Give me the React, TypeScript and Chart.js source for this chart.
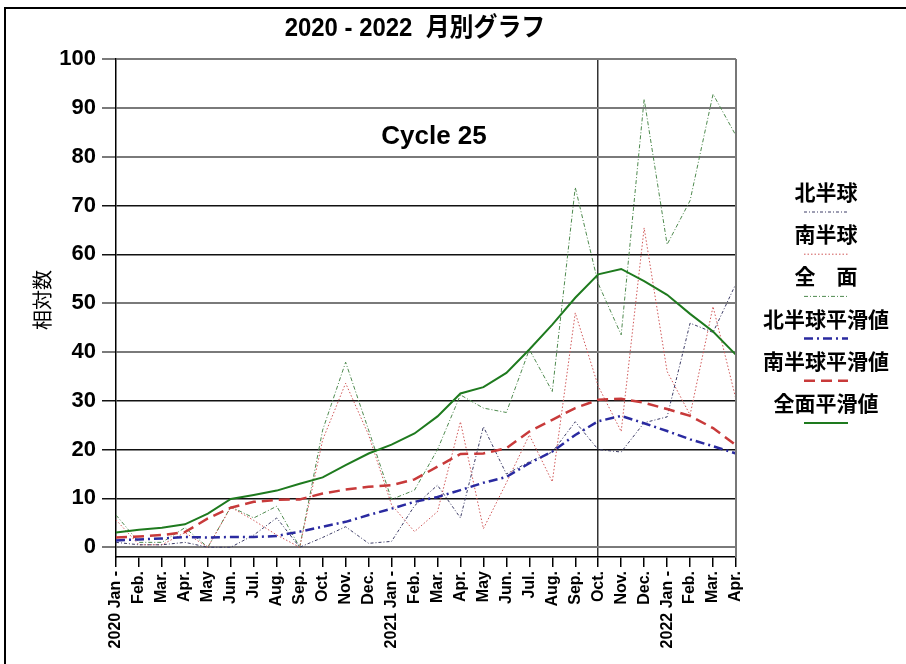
import React, { useEffect, useRef } from "react";
import { Chart, registerables } from "chart.js";

Chart.register(...registerables);

const TITLE = "2020 - 2022  月別グラフ";
const Y_TITLE = "相対数";
const NOTE = "Cycle 25";

const months = [
  "2020 Jan -", "Feb.", "Mar.", "Apr.", "May", "Jun.", "Jul.", "Aug.", "Sep.", "Oct.", "Nov.", "Dec.",
  "2021 Jan -", "Feb.", "Mar.", "Apr.", "May", "Jun.", "Jul.", "Aug.", "Sep.", "Oct.", "Nov.", "Dec.",
  "2022 Jan -", "Feb.", "Mar.", "Apr.",
];

const yTicks = [0, 10, 20, 30, 40, 50, 60, 70, 80, 90, 100];

const north = [1, 0.5, 0.5, 1, 0, 0, 2.5, 6, 0, 2, 4.2, 0.8, 1.2, 8.5, 12.7, 6, 24.7, 15, 17.5, 19.5, 25.7, 20, 19.5, 25.5, 26.7, 45.9, 44, 54];
const south = [5.6, 0.5, 0.5, 3, 0, 8.2, 5.5, 2.5, 0, 22, 33.6, 23, 8.7, 3.2, 7.3, 25.7, 3.8, 13.2, 23, 13.4, 48, 33, 23.7, 65.4, 36, 27.1, 49.3, 30.3];
const total = [6.6, 1, 1, 4, 0, 8.3, 6, 8.4, 0, 24, 37.9, 24, 9.8, 11.7, 20, 31.2, 28.5, 27.6, 40.5, 31.9, 73.7, 54, 43.5, 91.8, 62, 71, 92.8, 84.3];
const northSmooth = [1.4, 1.6, 1.8, 2.1, 2, 2.1, 2.1, 2.3, 3.2, 4.2, 5.2, 6.6, 7.9, 9.3, 10.3, 11.7, 13.2, 14.4, 17.2, 19.6, 23, 25.8, 26.9, 25.4, 23.8, 22.1, 20.7, 19.2];
const southSmooth = [2, 2.2, 2.5, 3.1, 5.9, 8.1, 9.3, 9.7, 9.8, 11, 11.8, 12.4, 12.7, 13.9, 16.5, 19.1, 19.2, 20.3, 23.7, 26.1, 28.5, 30.2, 30.4, 29.6, 28.3, 26.9, 24.4, 20.9];
const totalSmooth = [3, 3.6, 4, 4.7, 6.9, 9.9, 10.7, 11.6, 13, 14.3, 16.8, 19.2, 21, 23.3, 26.8, 31.5, 32.8, 35.7, 40.5, 45.6, 51.1, 55.9, 57, 54.5, 51.7, 47.8, 44.2, 39.4];

const seriesNames = ["北半球", "南半球", "全　面", "北半球平滑値", "南半球平滑値", "全面平滑値"];

const MARKER_INDEX = 21; // 2021 Oct.
const GRAY_LINES = [100, 90, 80, 50, 40, 0];

const decorPlugin = {
  id: "decor",
  afterDraw(chart: any) {
    const ctx = chart.ctx as CanvasRenderingContext2D;
    const { right, top, bottom } = chart.chartArea;
    ctx.save();
    // right border of plot
    ctx.strokeStyle = "#777";
    ctx.lineWidth = 2;
    ctx.beginPath();
    ctx.moveTo(right, top);
    ctx.lineTo(right, bottom);
    ctx.stroke();

    // outer frame
    ctx.strokeStyle = "#000";
    ctx.lineWidth = 2;
    ctx.beginPath();
    ctx.moveTo(5, 700);
    ctx.lineTo(5, 8);
    ctx.lineTo(950, 8);
    ctx.stroke();

    ctx.fillStyle = "#000";
    ctx.textAlign = "center";
    ctx.textBaseline = "middle";

    ctx.save();
    ctx.translate(415, 29);
    ctx.scale(0.92, 1);
    ctx.font = 'bold 26px "Liberation Sans", "Noto Sans CJK JP", sans-serif';
    ctx.fillText(TITLE, 0, 0);
    ctx.restore();

    ctx.font = 'bold 26px "Liberation Sans", Arial, sans-serif';
    ctx.fillText(NOTE, 434, 137);

    ctx.save();
    ctx.translate(42, 300);
    ctx.rotate(-Math.PI / 2);
    ctx.font = '20px "Noto Sans CJK JP", sans-serif';
    ctx.fillText(Y_TITLE, 0, 0);
    ctx.restore();

    // legend
    const cx = 826;
    chart.data.datasets.forEach((ds: any, i: number) => {
      const ty = 192 + i * 42.2;
      ctx.font = 'bold 21px "Noto Sans CJK JP", sans-serif';
      ctx.fillStyle = "#000";
      ctx.fillText(ds.label, cx, ty);
      const sy = ty + 20;
      ctx.strokeStyle = ds.borderColor;
      ctx.lineWidth = ds.borderWidth;
      ctx.setLineDash(ds.borderDash || []);
      ctx.beginPath();
      ctx.moveTo(cx - 22, sy);
      ctx.lineTo(cx + 22, sy);
      ctx.stroke();
      ctx.setLineDash([]);
    });
    ctx.restore();
  },
};

export default function App() {
  const ref = useRef<HTMLCanvasElement | null>(null);
  useEffect(() => {
    if (!ref.current) return;
    const mk = (label: string, data: number[], color: string, width: number, dash: number[], order: number) => ({
      label,
      data,
      borderColor: color,
      backgroundColor: color,
      borderWidth: width,
      borderDash: dash,
      pointRadius: 0,
      pointHoverRadius: 0,
      tension: 0,
      fill: false,
      order,
    });
    const chart = new Chart(ref.current, {
      type: "line",
      data: {
        labels: months,
        datasets: [
          mk(seriesNames[0], north, "#3c3c66", 1, [3, 2, 1, 2], 3),
          mk(seriesNames[1], south, "#d05858", 1, [1.5, 2], 3),
          mk(seriesNames[2], total, "#4f8a4f", 1, [4, 2, 1, 2], 3),
          mk(seriesNames[3], northSmooth, "#2a2aa0", 2.5, [9, 4, 2, 4], 1),
          mk(seriesNames[4], southSmooth, "#c83a3a", 2.5, [11, 6], 1),
          mk(seriesNames[5], totalSmooth, "#1e7a1e", 2, [], 0),
        ],
      },
      options: {
        responsive: false,
        animation: false,
        events: [],
        layout: { padding: { left: 0, top: 59, right: 170, bottom: 0 } },
        plugins: { legend: { display: false }, tooltip: { enabled: false }, title: { display: false } },
        scales: {
          x: {
            offset: false,
            border: { display: true, color: "#000", width: 1.5 },
            grid: {
              display: true,
              drawOnChartArea: true,
              color: (c: any) => (c.index === MARKER_INDEX ? "#333" : "rgba(0,0,0,0)"),
              lineWidth: 1.5,
              tickColor: "#000",
              tickLength: 10,
            },
            ticks: {
              autoSkip: false,
              minRotation: 90,
              maxRotation: 90,
              padding: 4,
              color: "#000",
              font: { family: '"Liberation Sans", Arial, sans-serif', size: 16, weight: "bold" },
            },
            afterFit: (s: any) => {
              s.height = 107;
            },
          },
          y: {
            min: -2,
            max: 100,
            border: { display: true, color: "#000", width: 1.5 },
            afterBuildTicks: (axis: any) => {
              axis.ticks = yTicks.map((v) => ({ value: v }));
            },
            grid: {
              color: (c: any) => (GRAY_LINES.includes(c.tick?.value) ? "#7a7a7a" : "#111"),
              lineWidth: (c: any) => (GRAY_LINES.includes(c.tick?.value) ? 2 : 1.5),
              tickLength: 14,
            },
            ticks: {
              padding: 6,
              color: "#000",
              font: { family: '"Liberation Sans", sans-serif', size: 22, weight: "bold" },
            },
            afterFit: (s: any) => {
              s.width = 116;
            },
          },
        },
      },
      plugins: [decorPlugin],
    } as any);
    return () => chart.destroy();
  }, []);
  return (
    <div style={{ position: "absolute", left: 0, top: 0, width: 906, height: 664, background: "#fff" }}>
      <canvas ref={ref} width={906} height={664} style={{ display: "block" }} />
    </div>
  );
}
